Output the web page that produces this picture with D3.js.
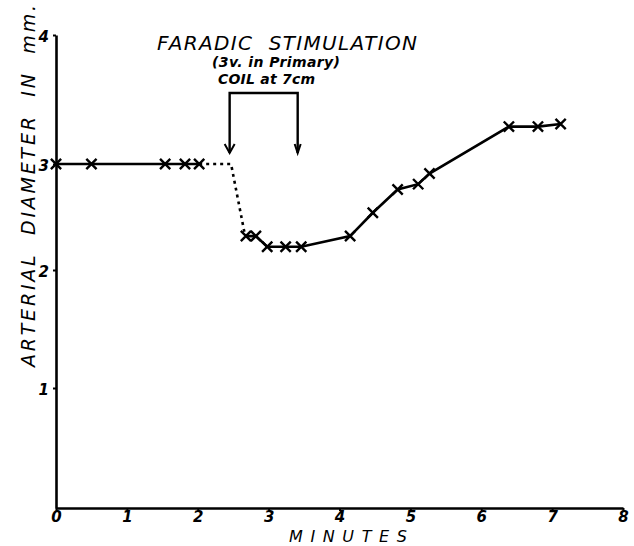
<!DOCTYPE html>
<html>
<head>
<meta charset="utf-8">
<script src="https://cdn.jsdelivr.net/npm/d3@7"></script>
<style>
  body { margin: 0; background: #fff; }
  text { font-family: "DejaVu Sans", sans-serif; font-style: italic; fill: #000; white-space: pre; }
</style>
</head>
<body>
<script>
// readings (minutes, mm)
var xTicks = [0, 1, 2, 3, 4, 5, 6, 7, 8];
var yTicks = [1, 2, 3, 4];

var beforeMin = [0, 0.5, 1.54, 1.82, 2.02];
var beforeMm = [3, 3, 3, 3, 3];

var gapMin = [2.02, 2.47, 2.66];
var gapMm = [3, 3, 2.35];

var afterMin = [2.68, 2.82, 2.98, 3.24, 3.46, 4.15, 4.47, 4.82, 5.11, 5.27, 6.39, 6.8, 7.12];
var afterMm = [2.32, 2.32, 2.22, 2.22, 2.22, 2.32, 2.54, 2.76, 2.81, 2.91, 3.29, 3.29, 3.31];

var stimStart = 2.45, stimEnd = 3.41;

var svg = d3.select("body").append("svg").attr("width", 634).attr("height", 546);

// hand drawn axis, the unit spacing is not even on y
var x = d3.scaleLinear().domain([0, 8]).range([56, 623]);
var y = d3.scaleLinear().domain([0, 1, 2, 3, 4]).range([508, 388, 270, 164, 35]);

function zip(a, b) {
    return a.map(function (d, i) { return [d, b[i]]; });
}

var line = d3.line()
    .x(function (d) { return x(d[0]); })
    .y(function (d) { return y(d[1]); });

// axes
var xAxis = svg.append("g")
    .attr("transform", "translate(0," + y(0) + ")")
    .call(d3.axisBottom(x).tickValues(xTicks).tickFormat(d3.format("d"))
        .tickSize(3).tickSizeOuter(0).tickPadding(2));

var yAxis = svg.append("g")
    .attr("transform", "translate(" + x(0) + ",0)")
    .call(d3.axisLeft(y).tickValues(yTicks).tickFormat(d3.format("d"))
        .tickSize(3).tickSizeOuter(0).tickPadding(4));

[xAxis, yAxis].forEach(function (g) {
    g.select(".domain").attr("stroke", "#000").attr("stroke-width", 2.6);
    g.selectAll(".tick line").attr("stroke", "#000").attr("stroke-width", 2);
    g.selectAll(".tick text")
        .attr("font-size", 15)
        .attr("font-weight", "bold")
        .style("font-family", "DejaVu Sans")
        .style("font-style", "italic");
});
yAxis.selectAll(".tick text").attr("dy", "0.4em");
xAxis.selectAll(".tick text").attr("dy", "0.62em");

// data lines
svg.append("path")
    .attr("d", line(zip(beforeMin, beforeMm)))
    .attr("fill", "none").attr("stroke", "#000").attr("stroke-width", 2.6);

svg.append("path")
    .attr("d", line(zip(gapMin, gapMm)))
    .attr("fill", "none").attr("stroke", "#000").attr("stroke-width", 2.6)
    .attr("stroke-dasharray", "3,4");

svg.append("path")
    .attr("d", line(zip(afterMin, afterMm)))
    .attr("fill", "none").attr("stroke", "#000").attr("stroke-width", 2.6);

// crosses on each reading
var marks = zip(beforeMin, beforeMm).concat(zip(afterMin, afterMm));
svg.selectAll("path.mark")
    .data(marks)
    .enter().append("path")
    .attr("class", "mark")
    .attr("d", d3.symbol(d3.symbolTimes).size(70))
    .attr("transform", function (d) { return "translate(" + x(d[0]) + "," + y(d[1]) + ")"; })
    .attr("fill", "none").attr("stroke", "#000").attr("stroke-width", 2.4);

// stimulation bracket with arrows
var topY = 93, tipY = 153;
svg.append("path")
    .attr("d", "M" + x(stimStart) + "," + tipY + "V" + topY + "H" + x(stimEnd) + "V" + tipY)
    .attr("fill", "none").attr("stroke", "#000").attr("stroke-width", 2.4);

[stimStart, stimEnd].forEach(function (s, i) {
    var w = i == 0 ? 5 : 3;
    svg.append("path")
        .attr("d", "M" + (x(s) - w) + "," + (tipY - 9) + "L" + x(s) + "," + tipY + "L" + (x(s) + w) + "," + (tipY - 9))
        .attr("fill", "none").attr("stroke", "#000").attr("stroke-width", 2);
});

// texts
svg.append("text")
    .attr("x", 157).attr("y", 50)
    .attr("font-size", 20)
    .attr("textLength", 260).attr("lengthAdjust", "spacing")
    .text("FARADIC  STIMULATION");

svg.append("text")
    .attr("x", 212).attr("y", 67)
    .attr("font-size", 14).attr("font-weight", "bold")
    .attr("textLength", 128).attr("lengthAdjust", "spacing")
    .text("(3v. in Primary)");

svg.append("text")
    .attr("x", 218).attr("y", 84)
    .attr("font-size", 14).attr("font-weight", "bold")
    .attr("textLength", 97).attr("lengthAdjust", "spacing")
    .text("COIL at 7cm");

svg.append("text")
    .attr("transform", "translate(35,367) rotate(-90)")
    .attr("font-size", 19)
    .attr("textLength", 362).attr("lengthAdjust", "spacing")
    .text("ARTERIAL  DIAMETER  IN  mm.");

svg.append("text")
    .attr("x", 289).attr("y", 542)
    .attr("font-size", 16)
    .attr("textLength", 118).attr("lengthAdjust", "spacing")
    .text("MINUTES");
</script>
</body>
</html>
